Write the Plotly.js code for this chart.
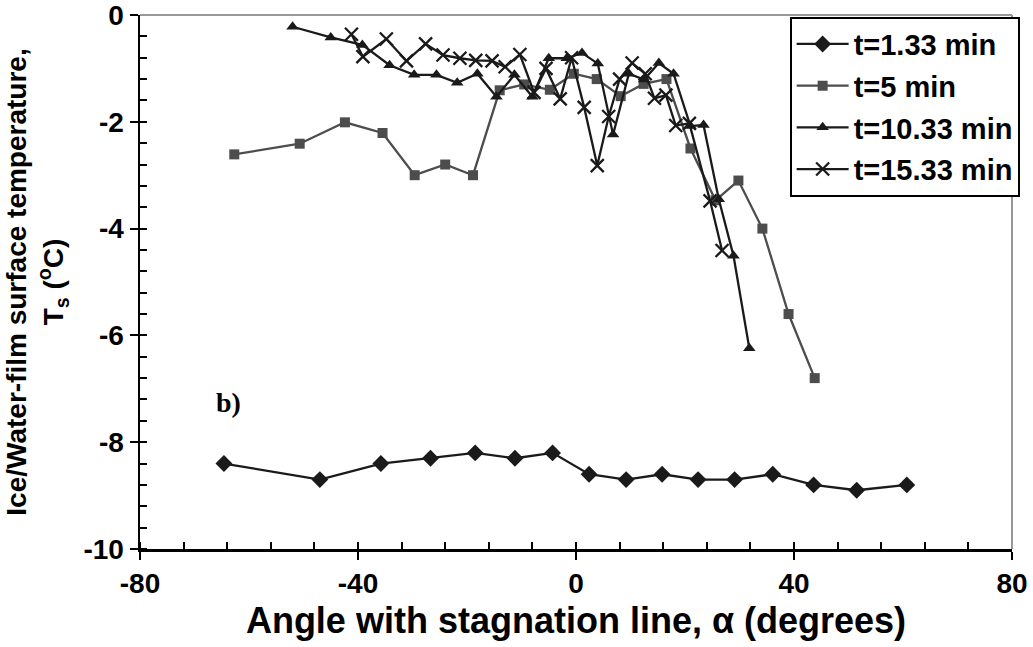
<!DOCTYPE html>
<html>
<head>
<meta charset="utf-8">
<script src="https://cdn.plot.ly/plotly-3.0.1.min.js"></script>
<style>
  html, body { margin: 0; padding: 0; background: #fff; }
  #chart { width: 1033px; height: 647px; }
  #chart .xtick text, #chart .ytick text { font-weight: 700 !important; }
</style>
</head>
<body>
<div id="chart"></div>
<script>
// Surface temperature along the cylinder, at four times
const seriesNames = ['t=1.33 min', 't=5 min', 't=10.33 min', 't=15.33 min'];

const angle_t133 = [-64.6, -47.0, -35.8, -26.7, -18.5, -11.2, -4.3, 2.4, 9.2, 15.8, 22.4, 29.1, 36.1, 43.6, 51.5, 60.7];
const temp_t133  = [-8.4, -8.7, -8.4, -8.3, -8.2, -8.3, -8.2, -8.6, -8.7, -8.6, -8.7, -8.7, -8.6, -8.8, -8.9, -8.8];

const angle_t5 = [-62.7, -50.7, -42.4, -35.5, -29.6, -24.0, -18.9, -14.0, -9.5, -4.8, -0.4, 3.8, 8.2, 12.4, 16.6, 21.0, 25.6, 29.8, 34.2, 39.0, 43.8];
const temp_t5  = [-2.61, -2.41, -2.01, -2.21, -3.0, -2.8, -3.0, -1.41, -1.3, -1.4, -1.1, -1.2, -1.52, -1.29, -1.2, -2.5, -3.47, -3.1, -4.0, -5.6, -6.8];

const angle_t1033 = [-52.0, -45.0, -39.2, -34.2, -29.7, -25.6, -21.8, -18.1, -14.6, -11.3, -8.0, -5.0, -1.7, 1.1, 4.0, 6.8, 9.7, 12.5, 15.2, 17.9, 21.0, 23.4, 26.2, 28.9, 31.8];
const temp_t1033  = [-0.22, -0.42, -0.56, -0.94, -1.12, -1.12, -1.27, -1.1, -1.53, -1.12, -1.53, -0.81, -0.81, -0.71, -0.91, -2.24, -1.1, -1.21, -0.9, -1.1, -2.08, -2.06, -3.45, -4.51, -6.24];

const angle_t1533 = [-41.2, -39.1, -34.8, -31.1, -27.6, -24.4, -21.3, -18.4, -15.4, -13.0, -10.3, -7.7, -5.5, -2.9, -0.8, 1.5, 3.9, 6.0, 8.0, 10.3, 12.7, 14.4, 16.5, 18.3, 20.8, 24.6, 26.8];
const temp_t1533  = [-0.36, -0.78, -0.45, -0.86, -0.54, -0.75, -0.81, -0.85, -0.86, -0.97, -0.74, -1.45, -1.0, -1.57, -0.8, -1.73, -2.82, -1.9, -1.2, -0.9, -1.1, -1.56, -1.5, -2.07, -2.03, -3.48, -4.41];

const xTickVals = [-80, -40, 0, 40, 80];
const yTickVals = [-10, -8, -6, -4, -2, 0];

const BLACK = '#1a1a1a';
const GRAY = '#4d4d4d';
const FONT = 'Liberation Sans, Arial, sans-serif';

function series(name, x, y, color, symbol, size, group) {
  return {
    type: 'scatter', mode: 'lines+markers', name: name, x: x, y: y,
    legendgroup: group,
    line: { color: color, width: 2.3 },
    marker: { symbol: symbol, size: size, color: color,
              line: { color: color, width: symbol.indexOf('open') >= 0 ? 2.3 : 0 } },
    hoverinfo: 'x+y'
  };
}

const traces = [
  series(seriesNames[0], angle_t133, temp_t133, BLACK, 'diamond', 13, 'a'),
  series(seriesNames[1], angle_t5, temp_t5, GRAY, 'square', 10, 'b'),
  series(seriesNames[2], angle_t1033, temp_t1033, BLACK, 'triangle-up', 11, 'c'),
  series(seriesNames[3], angle_t1533, temp_t1533, BLACK, 'x-thin-open', 13, 'd')
];

const boldTicks = v => v.map(t => '<b>' + t + '</b>');
const tickFont = { family: FONT, size: 28, weight: 700, color: '#000' };

const layout = {
  width: 1033, height: 647,
  margin: { l: 140, r: 21, t: 15, b: 98 },
  paper_bgcolor: '#fff', plot_bgcolor: '#fff',
  font: { family: FONT, color: '#000', size: 28 },
  showlegend: true,
  legend: {
    x: 0.745, xanchor: 'left', y: 0.997, yanchor: 'top',
    bgcolor: '#fff', bordercolor: '#000', borderwidth: 2,
    font: { family: FONT, size: 29, color: '#000', weight: 'bold' },
    tracegroupgap: 1, itemwidth: 52
  },
  xaxis: {
    range: [-80, 80], tickmode: 'array', tickvals: xTickVals, ticktext: boldTicks(xTickVals),
    ticks: 'outside', ticklen: 8, tickwidth: 2, tickcolor: '#000',
    ticklabeloverflow: 'allow',
    minor: { tick0: -80, dtick: 8, ticks: 'inside', ticklen: 7, tickwidth: 2, tickcolor: '#000', showgrid: false },
    showline: true, linecolor: '#000', linewidth: 2.5,
    showgrid: false, zeroline: false,
    tickfont: tickFont,
    title: { text: '<b>Angle with stagnation line, α (degrees)</b>', standoff: 10,
             font: { family: FONT, size: 36 } }
  },
  yaxis: {
    range: [-10, 0], tickmode: 'array', tickvals: yTickVals, ticktext: boldTicks(yTickVals),
    ticks: 'outside', ticklen: 8, tickwidth: 2, tickcolor: '#000',
    ticklabeloverflow: 'allow',
    minor: { tick0: -10, dtick: 0.4, ticks: 'inside', ticklen: 7, tickwidth: 2, tickcolor: '#000', showgrid: false },
    showline: true, linecolor: '#000', linewidth: 2.5,
    showgrid: false, zeroline: false,
    tickfont: tickFont,
    title: { text: '<b>Ice/Water-film surface temperature,<br>T<sub>s</sub> (<sup>o</sup>C)</b>', standoff: 12,
             font: { family: FONT, size: 28 } }
  },
  shapes: [
    { type: 'line', xref: 'paper', yref: 'paper', x0: 0, x1: 1, y0: 1, y1: 1,
      line: { color: '#999', width: 2 } },
    { type: 'line', xref: 'paper', yref: 'paper', x0: 1, x1: 1, y0: 0, y1: 1,
      line: { color: '#999', width: 2 } }
  ],
  annotations: [
    { text: '<b>b)</b>', x: -63.7, y: -7.25, xref: 'x', yref: 'y', showarrow: false,
      font: { family: 'Liberation Serif, Times New Roman, serif', size: 28, color: '#000' } }
  ]
};

Plotly.newPlot('chart', traces, layout, { displayModeBar: false, staticPlot: true });
</script>
</body>
</html>
